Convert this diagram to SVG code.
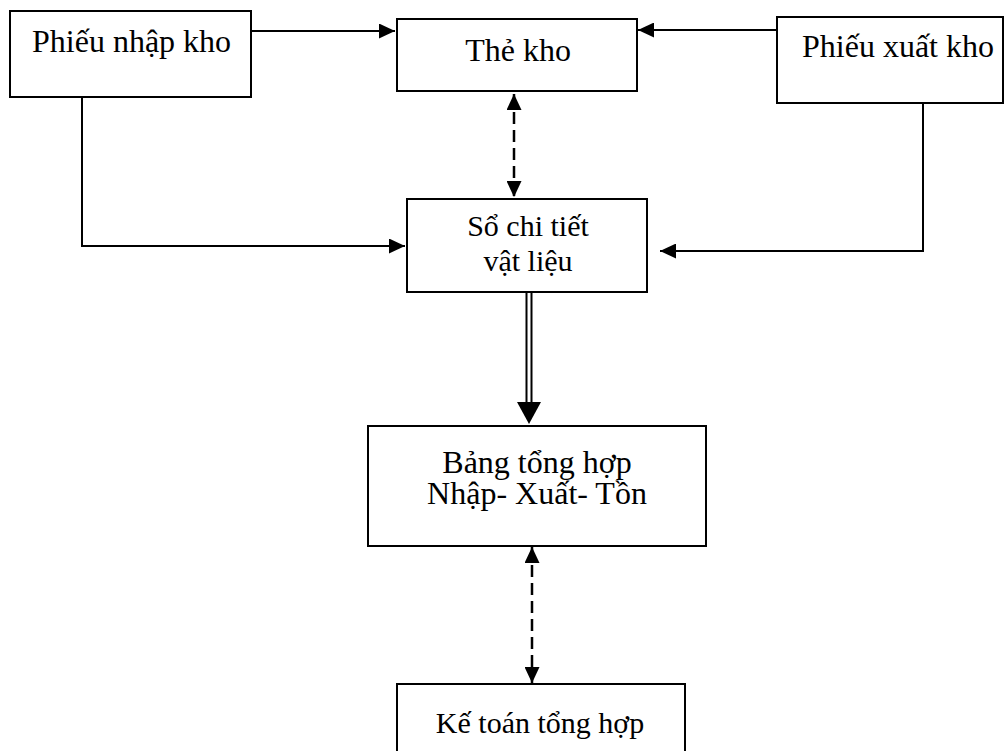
<svg xmlns="http://www.w3.org/2000/svg" width="1008" height="751" viewBox="0 0 1008 751">
<style>
.box{fill:#fff;stroke:#000;stroke-width:2}
.t{font-family:"Liberation Serif","Times New Roman",serif;font-size:32px;fill:#000}
.s{font-size:30px}
.c{fill:none;stroke:#000;stroke-width:2}
.d{stroke-dasharray:12 6;stroke-width:2.5}
</style>
<defs>
<marker id="ah" viewBox="0 0 16 15" refX="16" refY="7.5" markerWidth="16" markerHeight="15" markerUnits="userSpaceOnUse" orient="auto-start-reverse">
<path d="M0,0 L16,7.5 L0,15 z" fill="#000"/>
</marker>
</defs>
<rect width="1008" height="751" fill="#fff"/>
<g id="connectors">
<path class="c" d="M251,31 H395" marker-end="url(#ah)"/>
<path class="c" d="M777,30 H638" marker-end="url(#ah)"/>
<path class="c" d="M82,97 V246 H405" marker-end="url(#ah)"/>
<path class="c" d="M923,103 V251 H660" marker-end="url(#ah)"/>
<path class="c d" d="M514,94 V197" marker-start="url(#ah)" marker-end="url(#ah)"/>
<path class="c" d="M526.5,293 V403 M531.5,293 V403"/>
<polygon points="517,402 541,402 529,424" fill="#000"/>
<path class="c d" d="M532,547 V683" marker-start="url(#ah)" marker-end="url(#ah)"/>
</g>
<g id="phieu-nhap-kho">
<rect class="box" x="10" y="11" width="241" height="86"/>
<text class="t" x="32" y="52">Phiếu nhập kho</text>
</g>
<g id="the-kho">
<rect class="box" x="397" y="19" width="240" height="72"/>
<text class="t" x="518" y="61" text-anchor="middle">Thẻ kho</text>
</g>
<g id="phieu-xuat-kho">
<rect class="box" x="777" y="17" width="226" height="86"/>
<text class="t" x="802" y="57">Phiếu xuất kho</text>
</g>
<g id="so-chi-tiet">
<rect class="box" x="407" y="199" width="240" height="93"/>
<text class="t s" x="528" y="236" text-anchor="middle">Sổ chi tiết</text>
<text class="t s" x="528" y="271" text-anchor="middle">vật liệu</text>
</g>
<g id="bang-tong-hop">
<rect class="box" x="368" y="426" width="338" height="120"/>
<text class="t" x="537" y="473" text-anchor="middle">Bảng tổng hợp</text>
<text class="t" x="537" y="504" text-anchor="middle">Nhập- Xuất- Tồn</text>
</g>
<g id="ke-toan-tong-hop">
<rect class="box" x="397" y="684" width="288" height="80"/>
<text class="t s" x="540" y="733" text-anchor="middle">Kế toán tổng hợp</text>
</g>
</svg>
